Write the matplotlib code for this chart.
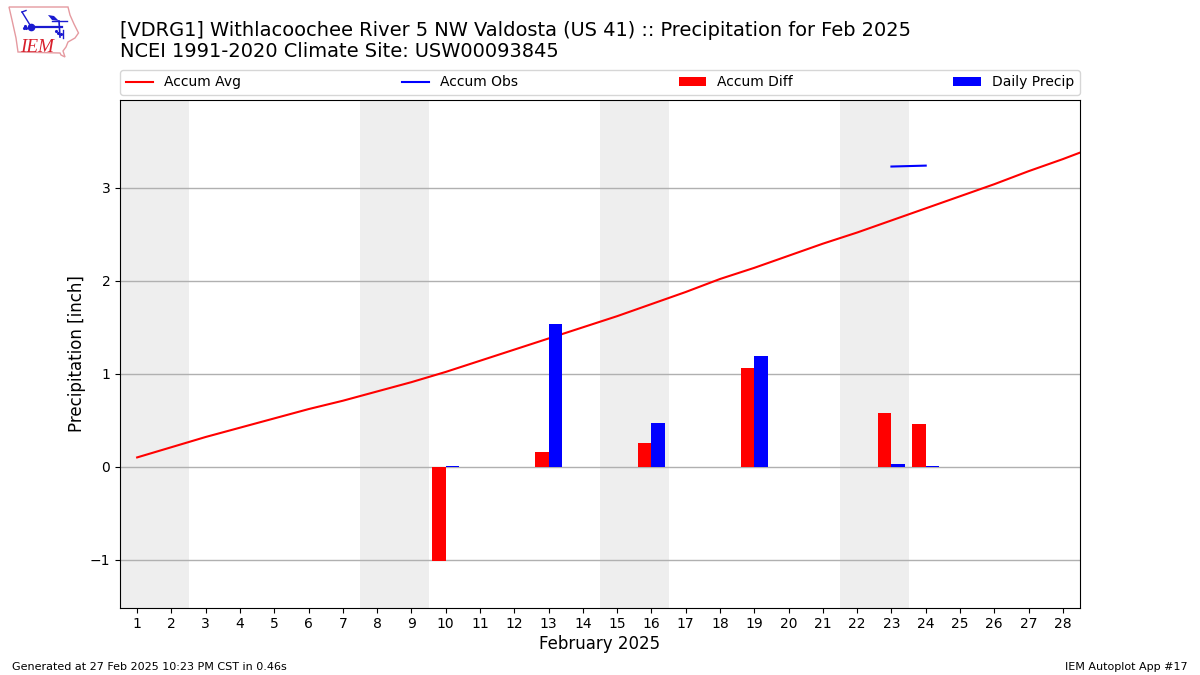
import matplotlib
matplotlib.use("Agg")
import matplotlib.pyplot as plt
from matplotlib.patches import Polygon

days = list(range(1, 30))
accum_avg = [0.10, 0.21, 0.32, 0.42, 0.52, 0.62, 0.71, 0.81, 0.91, 1.02,
             1.14, 1.26, 1.38, 1.50, 1.62, 1.75, 1.88, 2.02, 2.14, 2.27,
             2.40, 2.52, 2.65, 2.78, 2.91, 3.04, 3.18, 3.31, 3.45]
obs_days = [23, 24]
accum_obs = [3.23, 3.24]
bar_days = [10, 13, 16, 19, 23, 24]
accum_diff = [-1.01, 0.16, 0.26, 1.06, 0.58, 0.46]
daily_precip = [0.01, 1.54, 0.47, 1.19, 0.03, 0.01]
weekends = [(0.5, 2.5), (7.5, 9.5), (14.5, 16.5), (21.5, 23.5)]
tick_days = list(range(1, 29))

W, H = 1200, 675
fig = plt.figure(figsize=(12, 6.75), dpi=100)
ax = fig.add_axes([120 / W, 1 - 607.6 / H, 960 / W, 507.6 / H])

for a, b in weekends:
    ax.axvspan(a, b, color="#eeeeee", lw=0, zorder=0)
ax.plot(days, accum_avg, color="red", lw=1.5, label="Accum Avg", zorder=2)
ax.plot(obs_days, accum_obs, color="blue", lw=1.5, label="Accum Obs", zorder=2)
ax.bar(bar_days, accum_diff, width=-0.4, align="edge", color="red", label="Accum Diff", zorder=3)
ax.bar(bar_days, daily_precip, width=0.4, align="edge", color="blue", label="Daily Precip", zorder=3)

ax.set_xlim(0.5, 28.5)
ax.set_ylim(-1.516, 3.946)
ax.set_xticks(tick_days)
ax.set_yticks([-1, 0, 1, 2, 3])
ax.grid(True, axis="y", color="#b0b0b0", lw=1, zorder=1)
ax.set_axisbelow(True)
ax.tick_params(labelsize=10)
ax.set_xlabel("February 2025", fontsize=12, labelpad=3)
ax.set_ylabel("Precipitation [inch]", fontsize=12, labelpad=3)

ax.legend(loc="lower left", bbox_to_anchor=(0, 1 + 5 / 507.6, 1, 25 / 507.6), ncol=4, mode="expand",
          borderaxespad=0, fontsize=10)

fig.text(120 / W, 1 - 61 / H,
         "[VDRG1] Withlacoochee River 5 NW Valdosta (US 41) :: Precipitation for Feb 2025\n"
         "NCEI 1991-2020 Climate Site: USW00093845",
         fontsize=13.99, ha="left", va="bottom", linespacing=1.1)
fig.text(12 / W, 1 - 670 / H, "Generated at 27 Feb 2025 10:23 PM CST in 0.46s", fontsize=8, ha="left", va="baseline")
fig.text(1188 / W, 1 - 670 / H, "IEM Autoplot App #17", fontsize=8, ha="right", va="baseline")

# logo, drawn in pixel space
logo = fig.add_axes([0, 1 - 62 / H, 85 / W, 62 / H])
logo.set_xlim(0, 85)
logo.set_ylim(62, 0)
logo.axis("off")
outline = [(9, 7), (68, 7), (70, 15), (74, 24), (78.5, 33), (75, 38), (68, 42), (66, 47),
           (63, 51), (65, 57), (61, 55), (60, 53), (18, 52), (16, 38), (12, 20)]
logo.add_patch(Polygon(outline, closed=True, fill=False, ec="#e59aa0", lw=1))
logo.plot([31, 62], [26.5, 26.5], color="#1a1ad0", lw=1.6)
logo.plot([31], [26.5], "o", color="#1a1ad0", ms=4.5)
logo.plot([22, 30], [12, 25], color="#1a1ad0", lw=1)
logo.plot([22, 26], [12, 10.5], color="#1a1ad0", lw=1)
logo.plot([59, 60], [21, 37], color="#1a1ad0", lw=1.2)
logo.plot([63, 63], [30, 38], color="#1a1ad0", lw=1)
logo.add_patch(Polygon([(48, 15), (54, 16), (59, 21), (52, 20)], closed=True, color="#1a1ad0", lw=0))
logo.plot([52, 67], [21, 21], color="#1a1ad0", lw=1)
logo.plot([56, 58, 61], [31, 33, 34], ".", color="#1a1ad0", ms=2.5)
logo.plot([23.5, 26, 25], [28, 28, 25.5], ".", color="#1a1ad0", ms=2.5)
logo.text(20.5, 52, "IEM", fontsize=13.8, family="Liberation Serif", style="italic", color="#d8202c",
          ha="left", va="baseline")

fig.savefig("out.png", dpi=100)
